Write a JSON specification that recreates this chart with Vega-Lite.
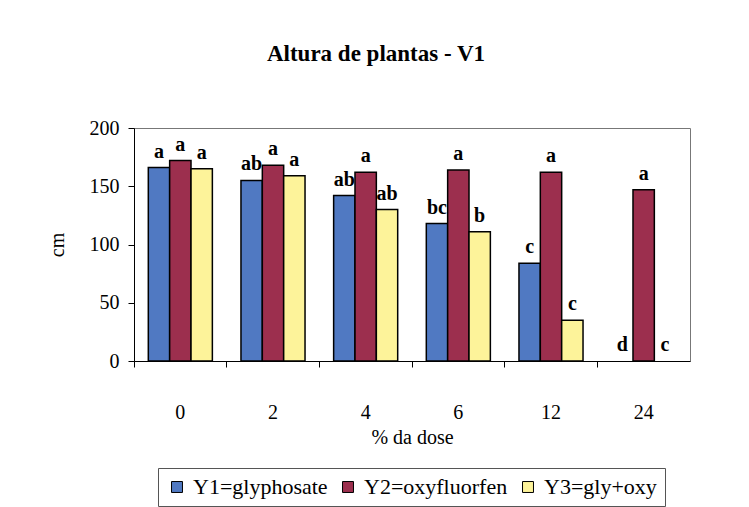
{
  "$schema": "https://vega.github.io/schema/vega-lite/v6.json",
  "autosize": "none",
  "width": 556,
  "height": 233,
  "padding": {"left": 134, "top": 128, "right": 59, "bottom": 146},
  "background": "white",
  "title": {
    "text": "Altura de plantas - V1",
    "anchor": "middle",
    "dx": -36,
    "offset": 52
  },
  "config": {
    "view": {"stroke": "#777", "strokeWidth": 1},
    "font": "Liberation Serif",
    "title": {"font": "Liberation Serif", "fontSize": 23, "fontWeight": "bold", "color": "black"},
    "legend": {"labelFont": "Liberation Serif", "labelFontSize": 22, "labelColor": "black"},
    "text": {"font": "Liberation Serif"},
    "axis": {
      "labelFont": "Liberation Serif",
      "titleFont": "Liberation Serif",
      "labelColor": "black",
      "titleColor": "black",
      "domainColor": "black",
      "tickColor": "black",
      "labelFontSize": 20,
      "titleFontSize": 20,
      "titleFontWeight": "normal",
      "grid": false
    }
  },
  "data": {
    "values": [
      {"dose": "0", "series": "Y1=glyphosate", "value": 166, "letter": "a"},
      {"dose": "0", "series": "Y2=oxyfluorfen", "value": 172, "letter": "a"},
      {"dose": "0", "series": "Y3=gly+oxy", "value": 165, "letter": "a"},
      {"dose": "2", "series": "Y1=glyphosate", "value": 155, "letter": "ab"},
      {"dose": "2", "series": "Y2=oxyfluorfen", "value": 168, "letter": "a"},
      {"dose": "2", "series": "Y3=gly+oxy", "value": 159, "letter": "a"},
      {"dose": "4", "series": "Y1=glyphosate", "value": 142, "letter": "ab"},
      {"dose": "4", "series": "Y2=oxyfluorfen", "value": 162, "letter": "a"},
      {"dose": "4", "series": "Y3=gly+oxy", "value": 130, "letter": "ab"},
      {"dose": "6", "series": "Y1=glyphosate", "value": 118, "letter": "bc"},
      {"dose": "6", "series": "Y2=oxyfluorfen", "value": 164, "letter": "a"},
      {"dose": "6", "series": "Y3=gly+oxy", "value": 111, "letter": "b"},
      {"dose": "12", "series": "Y1=glyphosate", "value": 84, "letter": "c"},
      {"dose": "12", "series": "Y2=oxyfluorfen", "value": 162, "letter": "a"},
      {"dose": "12", "series": "Y3=gly+oxy", "value": 35, "letter": "c"},
      {"dose": "24", "series": "Y1=glyphosate", "value": 0, "letter": "d"},
      {"dose": "24", "series": "Y2=oxyfluorfen", "value": 147, "letter": "a"},
      {"dose": "24", "series": "Y3=gly+oxy", "value": 0, "letter": "c"}
    ]
  },
  "encoding": {
    "x": {
      "field": "dose",
      "type": "nominal",
      "sort": ["0", "2", "4", "6", "12", "24"],
      "scale": {"paddingInner": 0, "paddingOuter": 0},
      "axis": {
        "title": "% da dose",
        "labelAngle": 0,
        "bandPosition": 0,
        "tickSize": 6,
        "labelPadding": 35,
        "titlePadding": 5
      }
    },
    "xOffset": {
      "field": "series",
      "type": "nominal",
      "sort": ["Y1=glyphosate", "Y2=oxyfluorfen", "Y3=gly+oxy"],
      "scale": {"paddingInner": 0, "paddingOuter": 0.67}
    },
    "y": {
      "field": "value",
      "type": "quantitative",
      "scale": {"domain": [0, 200]},
      "axis": {
        "title": "cm",
        "values": [0, 50, 100, 150, 200],
        "tickSize": 6,
        "labelPadding": 9,
        "titlePadding": 22
      }
    }
  },
  "layer": [
    {
      "transform": [{"filter": "datum.value > 0"}],
      "mark": {"type": "bar", "stroke": "black", "strokeWidth": 1.5},
      "encoding": {
        "color": {
          "field": "series",
          "type": "nominal",
          "scale": {
            "domain": ["Y1=glyphosate", "Y2=oxyfluorfen", "Y3=gly+oxy"],
            "range": ["#5079c2", "#9c2f4e", "#fdf39a"]
          },
          "legend": {
            "title": null,
            "orient": "none",
            "legendX": 24,
            "legendY": 340,
            "direction": "horizontal",
            "symbolType": "square",
            "symbolSize": 120,
            "symbolStrokeColor": "black",
            "symbolStrokeWidth": 1,
            "symbolOpacity": 1,
            "labelFont": "Liberation Serif",
            "labelFontSize": 22,
            "labelColor": "black",
            "labelLimit": 300,
            "labelOffset": 5,
            "columnPadding": 9,
            "strokeColor": "#555",
            "padding": 8
          }
        }
      }
    },
    {
      "mark": {
        "type": "text",
        "dy": -16,
        "font": "Liberation Serif",
        "fontSize": 20,
        "fontWeight": "bold",
        "color": "black"
      },
      "encoding": {
        "text": {"field": "letter"}
      }
    }
  ]
}
